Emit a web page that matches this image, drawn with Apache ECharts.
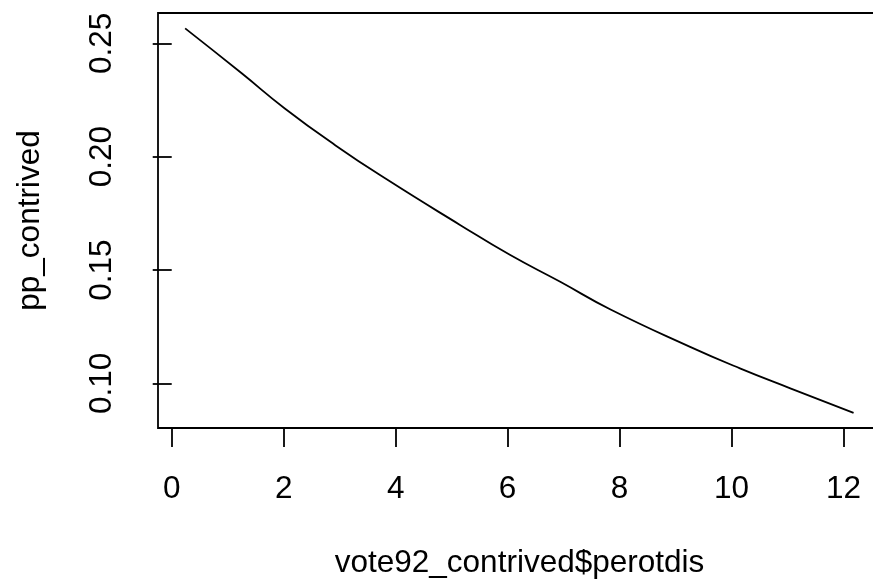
<!DOCTYPE html>
<html>
<head>
<meta charset="utf-8">
<script src="https://cdn.jsdelivr.net/npm/echarts@6/dist/echarts.min.js"></script>
<style>
  html, body { margin: 0; padding: 0; background: #fff; }
  #chart { width: 873px; height: 581px; }
</style>
</head>
<body>
<div id="chart"></div>
<script>
// values
const perotdis = [0.24, 1.25, 2.02, 2.92, 3.84, 5.15, 6.04, 6.94, 7.83, 9.26, 10.15, 11.05, 12.18];
const ppContrived = [0.2566, 0.2368, 0.2213, 0.2051, 0.1900, 0.1699, 0.1567, 0.1448, 0.1327, 0.1161, 0.1066, 0.0978, 0.0870];
const xTicks = [0, 2, 4, 6, 8, 10, 12];
const yTicks = [0.10, 0.15, 0.20, 0.25];

const chart = echarts.init(document.getElementById("chart"), null, { renderer: "canvas" });
const font = "Liberation Sans";
const fontSize = 31.5;

const option = {
  animation: false,
  backgroundColor: "#ffffff",
  grid: {
    left: 158,
    top: 13,
    width: 723, // plot region runs past the right edge, as in the original
    height: 415,
    outerBoundsMode: "none",
    containLabel: false,
    show: true,
    borderColor: "#000",
    borderWidth: 1.8,
  },
  xAxis: {
    type: "value",
    min: -0.245,
    max: 12.67,
    name: "vote92_contrived$perotdis",
    nameLocation: "middle",
    nameGap: 119,
    nameTextStyle: { fontFamily: font, fontSize: fontSize, color: "#000" },
    axisLine: { show: false },
    splitLine: { show: false },
    axisTick: {
      show: true,
      length: 19,
      customValues: xTicks,
      lineStyle: { color: "#000", width: 1.8 },
    },
    axisLabel: {
      customValues: xTicks,
      margin: 45,
      fontFamily: font,
      fontSize: fontSize,
      color: "#000",
    },
  },
  yAxis: {
    type: "value",
    min: 0.0803,
    max: 0.2634,
    name: "pp_contrived",
    nameLocation: "middle",
    nameRotate: 90,
    nameGap: 112,
    nameTextStyle: { fontFamily: font, fontSize: fontSize, color: "#000" },
    axisLine: { show: false },
    splitLine: { show: false },
    axisTick: {
      show: true,
      length: 19,
      customValues: yTicks,
      lineStyle: { color: "#000", width: 1.8 },
    },
    axisLabel: {
      customValues: yTicks,
      rotate: 90,
      margin: 40,
      fontFamily: font,
      fontSize: fontSize,
      color: "#000",
      formatter: (v) => v.toFixed(2),
    },
  },
  series: [
    {
      type: "line",
      data: perotdis.map((x, i) => [x, ppContrived[i]]),
      smooth: true,
      showSymbol: false,
      lineStyle: { color: "#000", width: 1.8 },
    },
  ],
};
chart.setOption(option);
</script>
</body>
</html>
